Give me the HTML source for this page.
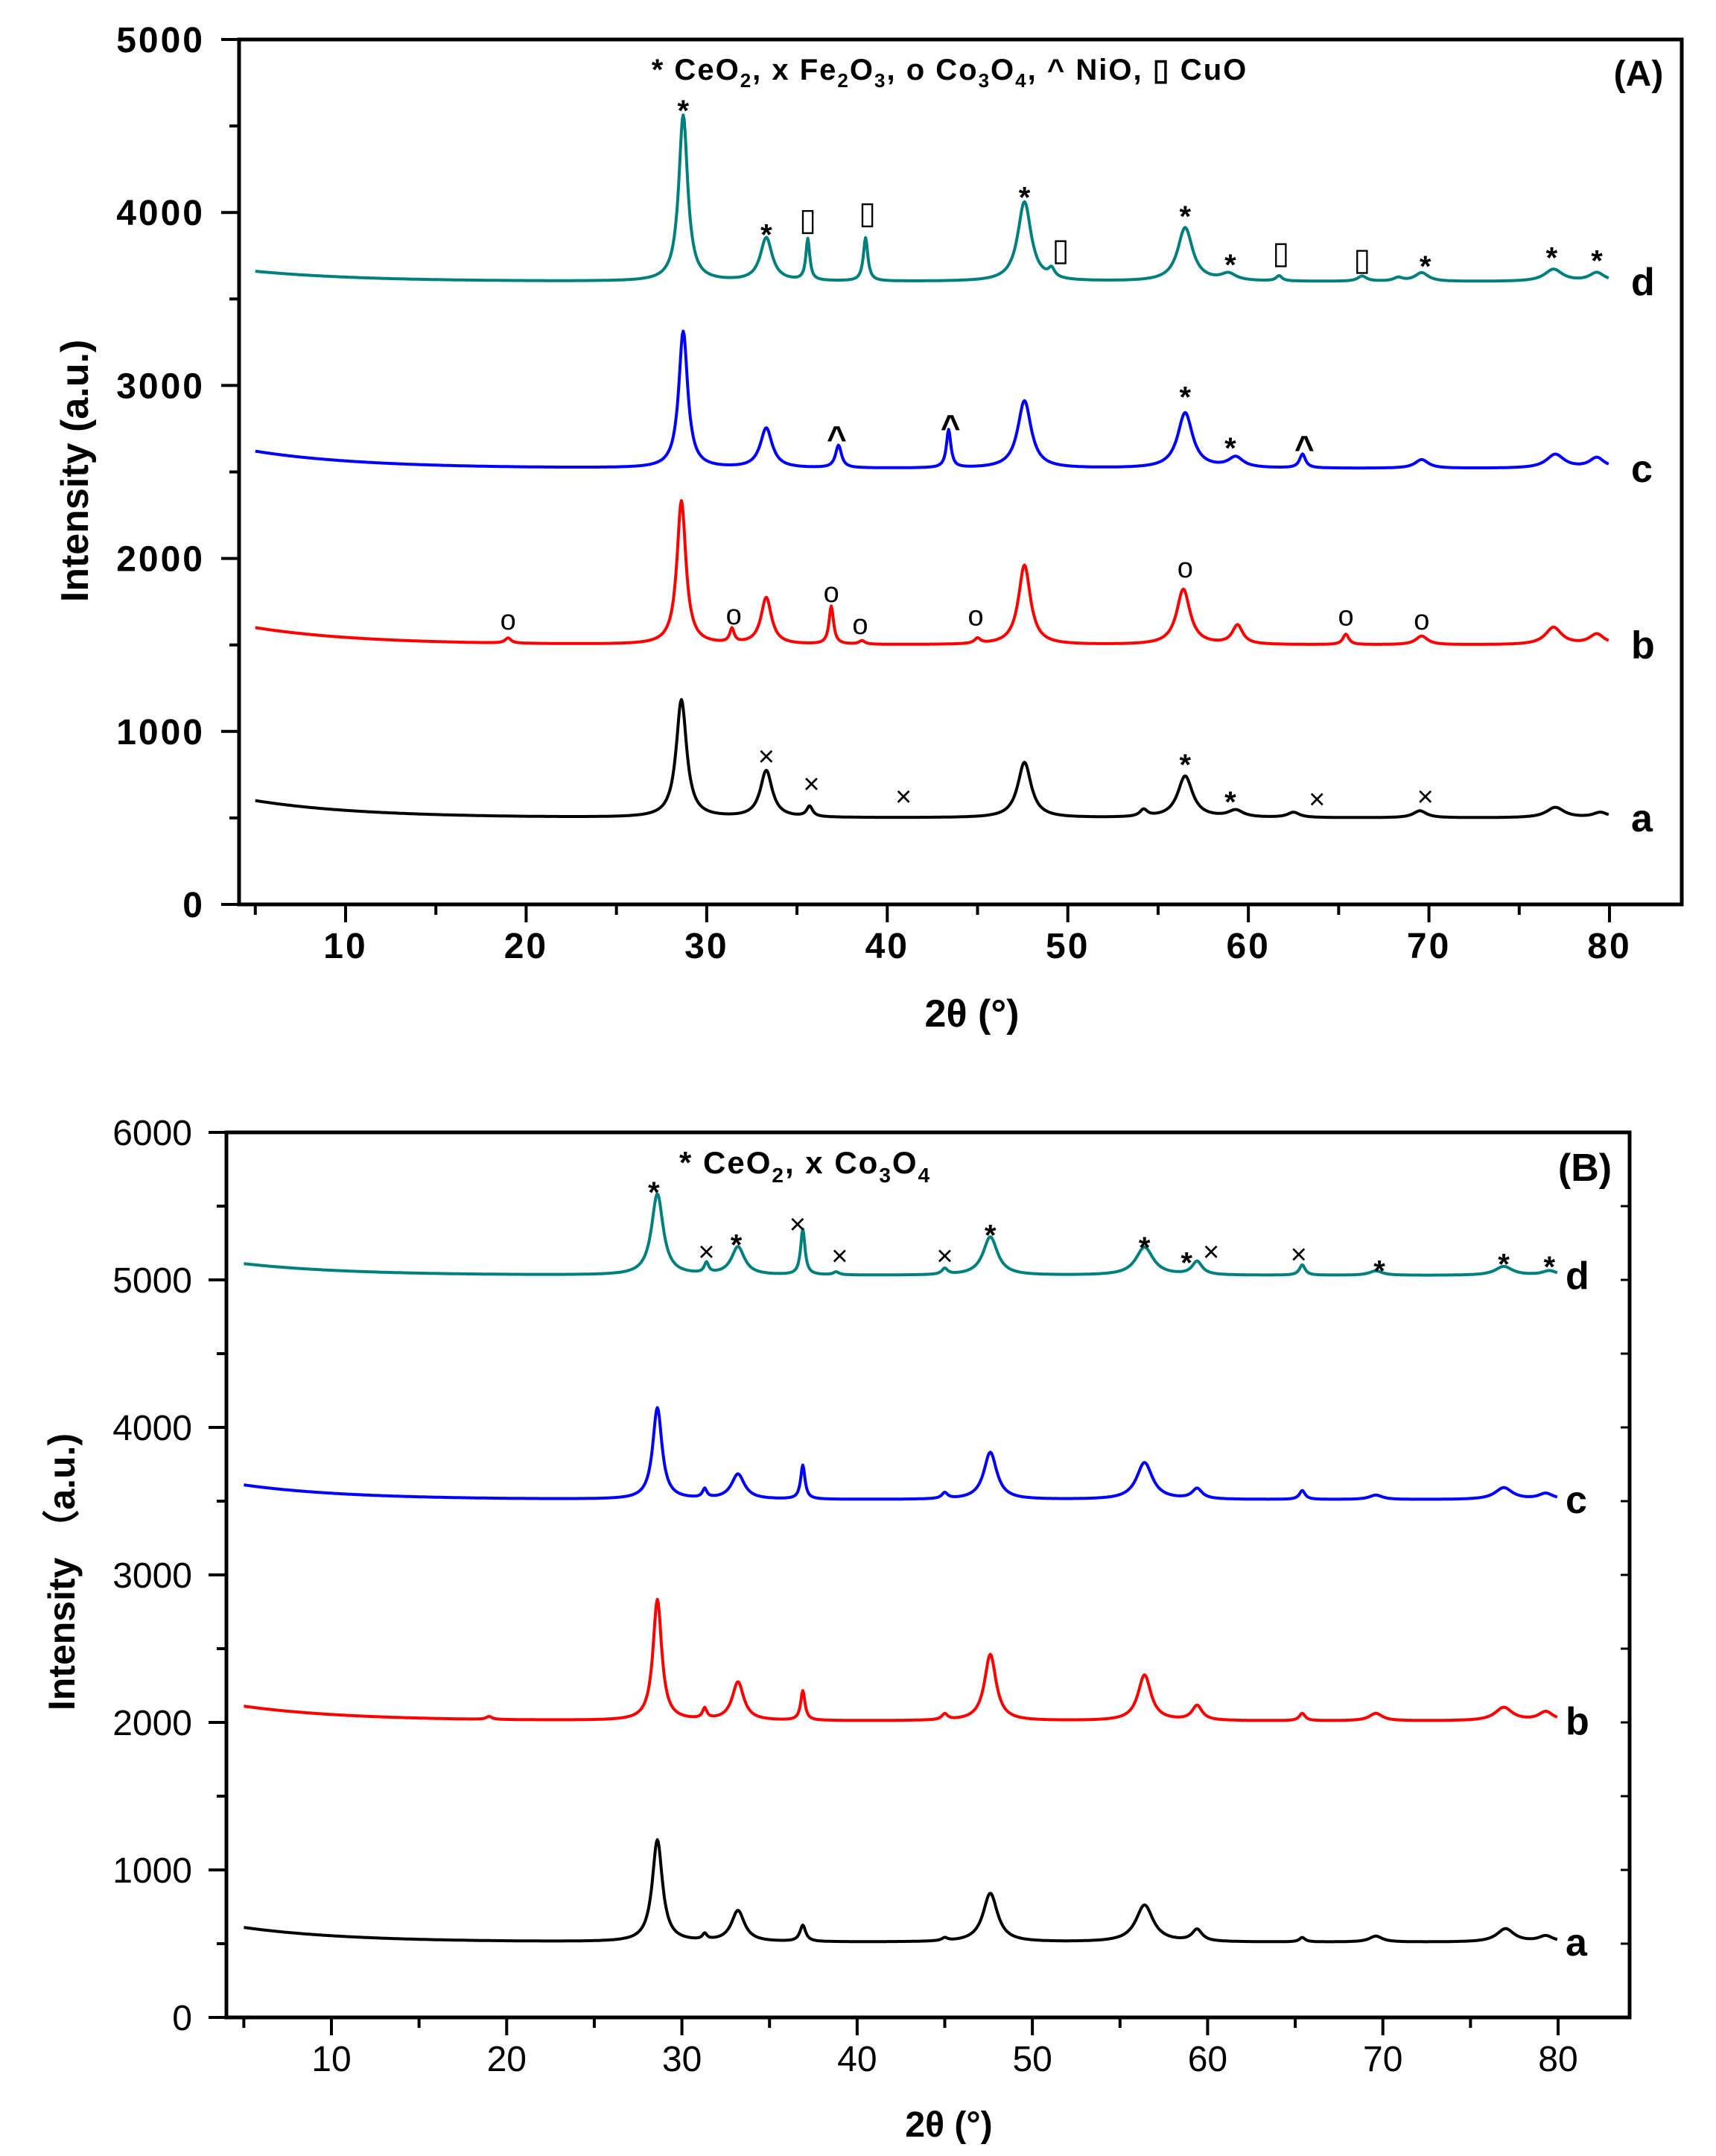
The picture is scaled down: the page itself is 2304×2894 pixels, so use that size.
<!DOCTYPE html>
<html><head><meta charset="utf-8">
<style>
html,body{margin:0;padding:0;background:#fff;}
svg{display:block;}
text{font-family:"Liberation Sans",Arial,sans-serif;}
</style></head>
<body>
<svg id="fig" width="2304" height="2894" viewBox="0 0 2304 2894" xmlns="http://www.w3.org/2000/svg">
<g id="panelA"></g>
<g id="panelB"></g>
</svg>
<script>
// ---------- Panel A data ----------
const aNames = ['a','b','c','d'];
const aColors = ['#000000','#ff0000','#0000ff','#007f7f'];
const aBase = [500, 1500, 2520, 3600];
const aStart = [100, 100, 100, 60];
const aPeakPos = [
 [28.6,33.3,35.7,47.6,54.2,56.5,59.3,62.5,69.5,77.0,79.5],
 [19.0,28.6,31.4,33.3,36.9,38.6,45.0,47.6,56.4,59.4,65.4,69.6,76.9,79.3],
 [28.7,33.3,37.3,43.4,47.6,56.5,59.3,63.0,69.6,77.0,79.3],
 [28.7,33.3,35.6,38.8,47.6,49.1,56.5,58.9,61.7,66.3,68.3,69.6,76.9,79.3]
];
const aPeakH = [
 [680,270,60,320,40,240,40,30,40,60,30],
 [30,830,80,270,220,20,30,460,320,110,60,50,100,60],
 [790,230,130,220,390,320,60,80,50,80,60],
 [960,250,240,250,460,50,310,40,30,30,20,50,70,50]
];
const aPeakW = [
 [0.35,0.4,0.2,0.45,0.25,0.5,0.5,0.4,0.45,0.6,0.5],
 [0.2,0.3,0.15,0.35,0.15,0.2,0.2,0.4,0.45,0.35,0.2,0.4,0.55,0.5],
 [0.3,0.4,0.2,0.15,0.45,0.5,0.5,0.2,0.45,0.6,0.5],
 [0.3,0.4,0.13,0.15,0.45,0.2,0.5,0.5,0.2,0.3,0.3,0.45,0.6,0.5]
];
const aMarkX = [28.7,33.3,35.6,38.9,47.6,49.6,56.5,59.0,61.8,66.3,69.8,76.8,79.3,
  37.2,43.5,56.5,59.0,63.1,
  19.0,31.5,36.9,38.5,44.9,56.5,65.4,69.6,
  33.3,35.8,40.9,56.5,59.0,63.8,69.8];
const aMarkY = [4626,3909,3949,3989,4124,3774,4013,3734,3758,3718,3726,3774,3758,
  2731,2795,2970,2675,2675,
  1640,1672,1800,1616,1664,1943,1664,1640,
  852,693,621,844,629,605,621];
const aMarkS = ['*','*','▯','▯','*','▯','*','*','▯','▯','*','*','*',
  '^','^','*','*','^',
  'o','o','o','o','o','o','o','o',
  '×','×','×','*','*','×','×'];
const aXTicks = [10,20,30,40,50,60,70,80];
const aYTicks = [0,1000,2000,3000,4000,5000];

// ---------- Panel B data ----------
const bNames = ['a','b','c','d'];
const bColors = ['#000000','#ff0000','#0000ff','#007f7f'];
const bBase = [510, 2010, 3510, 5030];
const bStart = [100, 100, 100, 80];
const bPeakPos = [
 [28.6,31.3,33.2,36.9,45.0,47.6,56.4,59.4,65.4,69.6,77.0,79.3],
 [19.0,28.6,31.3,33.2,36.9,45.0,47.6,56.4,59.4,65.4,69.6,76.9,79.3],
 [28.6,31.3,33.2,36.9,45.0,47.6,56.4,59.4,65.4,69.6,76.9,79.3],
 [28.6,31.4,33.2,36.9,38.8,45.0,47.6,56.4,59.4,65.4,69.6,76.9,79.5]
];
const bPeakH = [
 [690,40,210,110,20,330,250,80,30,40,90,40],
 [20,820,70,260,200,40,450,310,100,50,50,90,60],
 [620,60,170,230,40,320,250,70,60,30,80,40],
 [550,70,190,310,20,40,260,190,90,70,30,60,30]
];
const bPeakW = [
 [0.35,0.15,0.45,0.2,0.2,0.5,0.6,0.35,0.2,0.45,0.6,0.5],
 [0.2,0.3,0.15,0.4,0.15,0.2,0.4,0.45,0.35,0.2,0.45,0.6,0.5],
 [0.32,0.15,0.45,0.15,0.2,0.45,0.55,0.35,0.2,0.45,0.6,0.5],
 [0.4,0.15,0.45,0.15,0.2,0.2,0.5,0.6,0.35,0.2,0.45,0.6,0.5]
];
const bMarkX = [28.4,31.4,33.1,36.6,39.0,45.0,47.6,56.4,58.8,60.2,65.2,69.8,76.9,79.5];
const bMarkY = [5636,5187,5280,5374,5159,5159,5346,5262,5159,5187,5168,5103,5150,5131];
const bMarkS = ['*','×','*','×','×','×','*','*','*','×','×','*','*','*'];
const bXTicks = [10,20,30,40,50,60,70,80];
const bYTicks = [0,1000,2000,3000,4000,5000,6000];

const NS = 'http://www.w3.org/2000/svg';
function mk(parent, tag, attrs, txt){
  const e = document.createElementNS(NS, tag);
  for (const k in attrs) e.setAttribute(k, attrs[k]);
  if (txt !== undefined) e.textContent = txt;
  parent.appendChild(e);
  return e;
}

function drawPanel(g, cfg){
  const sx = v => cfg.x10 + (v - 10) * (cfg.x80 - cfg.x10) / 70;
  const sy = v => cfg.y0 + (cfg.yTop - cfg.y0) * v / cfg.yMax;
  const tw = cfg.bold ? 'bold' : 'normal';
  const fr = mk(g, 'rect', {x:cfg.L, y:cfg.T, width:cfg.R-cfg.L, height:cfg.B-cfg.T, fill:'none', stroke:'#000', 'stroke-width':5});
  
  
  for (let v = 5; v <= 80; v += 5){
    const major = v % 10 === 0;
    const t = mk(g, 'line', {x1:sx(v), x2:sx(v), y1:cfg.B, y2:cfg.B + (major?24:14), stroke:'#000', 'stroke-width':4});
    
    
  }
  cfg.xTicks.forEach(v => {
    const t = mk(g, 'text', {x:sx(v), y:cfg.B + 72, 'text-anchor':'middle', 'font-size':48, 'font-weight':tw, 'letter-spacing':cfg.bold?3:0}, String(v));
    
    
  });
  for (let v = 0; v <= cfg.yMax; v += 500){
    const major = v % 1000 === 0;
    const t = mk(g, 'line', {x1:cfg.L, x2:cfg.L - (major?24:13), y1:sy(v), y2:sy(v), stroke:'#000', 'stroke-width':4});
    
    
    if (cfg.rightTicks && v > 0 && v < cfg.yMax){
      const r = mk(g, 'line', {x1:cfg.R, x2:cfg.R - 12, y1:sy(v), y2:sy(v), stroke:'#000', 'stroke-width':3});
      
      
    }
  }
  cfg.yTicks.forEach(v => {
    const t = mk(g, 'text', {x:cfg.L - 46, y:sy(v) + 17, 'text-anchor':'end', 'font-size':48, 'font-weight':tw, 'letter-spacing':cfg.bold?3:0}, String(v));
    
    
  });
  for (let s = 0; s < cfg.base.length; s++){
    let d = '';
    for (let x = 5; x <= 79.95; x += 0.05){
      let y = cfg.base[s] + cfg.start[s] * Math.exp(-(x - 5) / 6);
      const P = cfg.pos[s], H = cfg.h[s], W = cfg.w[s];
      for (let k = 0; k < P.length; k++){
        const u = (x - P[k]) / W[k];
        y += H[k] / (1 + u * u);
      }
      d += (d ? 'L' : 'M') + sx(x).toFixed(1) + ',' + sy(y).toFixed(1);
    }
    const p = mk(g, 'path', {d:d, fill:'none', stroke:cfg.colors[s], 'stroke-width':4, 'stroke-linejoin':'round'});
    
    
    const lb = mk(g, 'text', {x:cfg.labelX, y:sy(cfg.base[s]) + 18, 'font-size':52, 'font-weight':'bold'}, cfg.names[s]);
    
    
  }
  for (let i = 0; i < cfg.mx.length; i++){
    const sym = cfg.ms[i];
    const fs = sym === '*' ? 40 : (sym === 'o' ? 38 : (sym === '▯' ? 42 : (sym === '^' ? 46 : 38)));
    const fam = sym === '▯' ? '"DejaVu Sans",sans-serif' : '"Liberation Sans",sans-serif';
    const dy = sym === '*' ? 22 : (sym === '^' ? 24 : 12);
    const m = mk(g, 'text', {x:sx(cfg.mx[i]), y:sy(cfg.my[i]) + dy, 'text-anchor':'middle', 'font-size':fs, 'font-weight':(sym==='*'||sym==='^')?'bold':'normal', 'font-family':fam}, sym);
    
    
  }
}

drawPanel(document.getElementById('panelA'), {
  L:321, R:2258, T:53, B:1214, x10:464, x80:2161, y0:1214, yTop:53, yMax:5000, bold:true, rightTicks:false,
  base:aBase, start:aStart, pos:aPeakPos, h:aPeakH, w:aPeakW, colors:aColors, names:aNames,
  mx:aMarkX, my:aMarkY, ms:aMarkS, xTicks:aXTicks, yTicks:aYTicks, labelX:2190
});
drawPanel(document.getElementById('panelB'), {
  L:304, R:2188, T:1520, B:2708, x10:445, x80:2092, y0:2708, yTop:1520, yMax:6000, bold:false, rightTicks:true,
  base:bBase, start:bStart, pos:bPeakPos, h:bPeakH, w:bPeakW, colors:bColors, names:bNames,
  mx:bMarkX, my:bMarkY, ms:bMarkS, xTicks:bXTicks, yTicks:bYTicks, labelX:2102
});
</script>
<svg style="position:absolute;left:0;top:0" width="2304" height="2894" xmlns="http://www.w3.org/2000/svg">
 <text x="1275" y="107" text-anchor="middle" font-size="40" font-weight="bold" letter-spacing="2" font-family="Liberation Sans, sans-serif">* CeO<tspan font-size="26" dy="10">2</tspan><tspan dy="-10">, x Fe</tspan><tspan font-size="26" dy="10">2</tspan><tspan dy="-10">O</tspan><tspan font-size="26" dy="10">3</tspan><tspan dy="-10">, o  Co</tspan><tspan font-size="26" dy="10">3</tspan><tspan dy="-10">O</tspan><tspan font-size="26" dy="10">4</tspan><tspan dy="-10">, ^ NiO, ▯ CuO</tspan></text>
 <text x="2200" y="115" text-anchor="middle" font-size="48" font-weight="bold" font-family="Liberation Sans, sans-serif">(A)</text>
 <text x="1305" y="1378" text-anchor="middle" font-size="52" font-weight="bold" font-family="Liberation Serif, serif">2θ (°)</text>
 <text transform="translate(118,632) rotate(-90)" text-anchor="middle" font-size="52" font-weight="bold" font-family="Liberation Sans, sans-serif">Intensity (a.u.)</text>
 <text x="912" y="1575" font-size="42" font-weight="bold" letter-spacing="2" font-family="Liberation Sans, sans-serif">* CeO<tspan font-size="28" dy="12">2</tspan><tspan dy="-12">, x Co</tspan><tspan font-size="28" dy="12">3</tspan><tspan dy="-12">O</tspan><tspan font-size="28" dy="12">4</tspan></text>
 <text x="2128" y="1585" text-anchor="middle" font-size="52" font-weight="bold" font-family="Liberation Sans, sans-serif">(B)</text>
 <text x="1274" y="2868" text-anchor="middle" font-size="48" font-weight="bold" font-family="Liberation Serif, serif">2θ (°)</text>
 <text transform="translate(100,2110) rotate(-90)" text-anchor="middle" font-size="50" font-weight="bold" font-family="Liberation Sans, sans-serif">Intensity （a.u.)</text>
</svg>
</body></html>
